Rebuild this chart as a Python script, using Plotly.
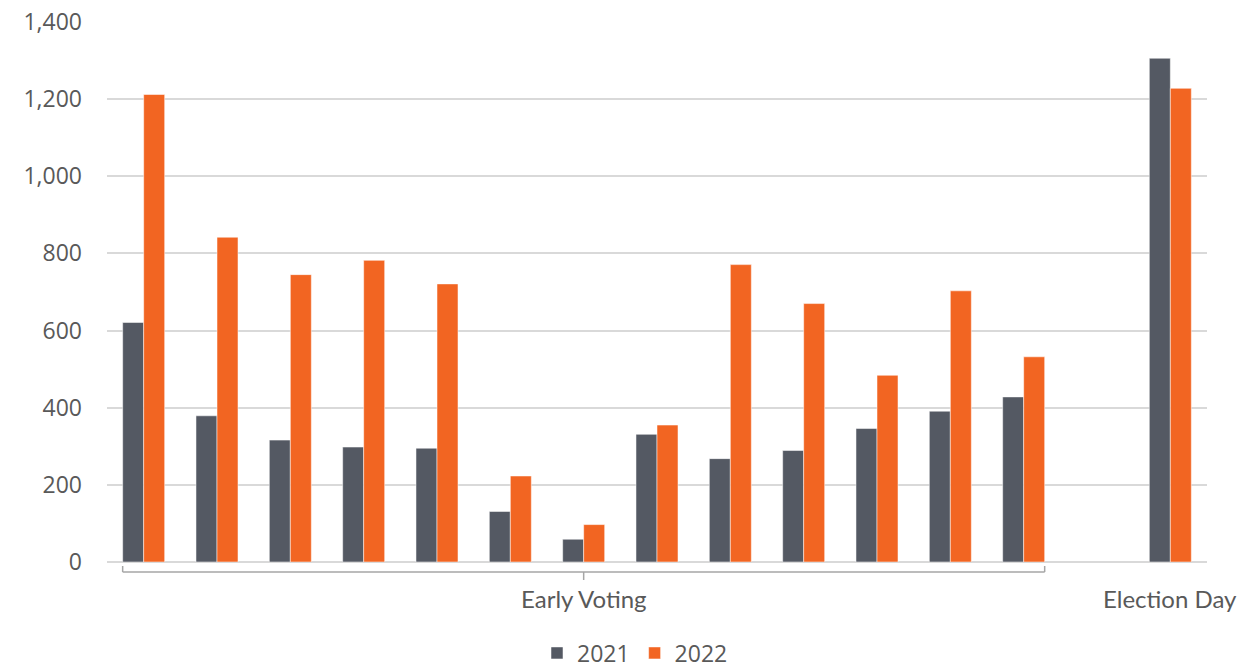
import plotly.graph_objects as go

# ---- data ----
categories = [f"EV{i}" for i in range(1, 14)] + [" ", "Election Day"]
votes_2021 = [621, 379, 316, 298, 295, 131, 59, 331, 268, 289, 346, 391, 428, None, 1306]
votes_2022 = [1212, 842, 745, 782, 721, 223, 97, 355, 771, 670, 484, 703, 532, None, 1228]
series_names = ["2021", "2022"]
group_labels = ["Early Voting", "Election Day"]
y_ticks = [0, 200, 400, 600, 800, 1000, 1200, 1400]

GRAY = "#545963"
ORANGE = "#F26522"
TEXT = "#595959"
GRID = "#D9D9D9"

x_idx = list(range(len(categories)))

fig = go.Figure()
fig.add_trace(go.Bar(x=x_idx, y=votes_2021, name=series_names[0],
                     marker=dict(color=GRAY, line=dict(color="rgba(255,255,255,0.5)", width=1))))
fig.add_trace(go.Bar(x=x_idx, y=votes_2022, name=series_names[1],
                     marker=dict(color=ORANGE, line=dict(color="rgba(255,255,255,0.5)", width=1))))

bargap = 0.427
half = (1 - bargap) / 2
n_early = 13

PH = 540  # plot height in px
y_line = -10 / PH
y_up = -4 / PH
y_down = -18 / PH
line_style = dict(color="#A6A6A6", width=1.5)
shapes = [
    dict(type="line", xref="x", yref="paper", x0=-half, x1=n_early - 1 + half, y0=y_line, y1=y_line, line=line_style),
    dict(type="line", xref="x", yref="paper", x0=-half, x1=-half, y0=y_line, y1=y_up, line=line_style),
    dict(type="line", xref="x", yref="paper", x0=n_early - 1 + half, x1=n_early - 1 + half, y0=y_line, y1=y_up, line=line_style),
    dict(type="line", xref="x", yref="paper", x0=(n_early - 1) / 2, x1=(n_early - 1) / 2, y0=y_line, y1=y_down, line=line_style),
]

annotations = [
    dict(text=group_labels[0], xref="x", yref="paper", x=(n_early - 1) / 2, y=-36 / PH,
         showarrow=False, xanchor="center", yanchor="middle",
         font=dict(family="Lato", size=24, color=TEXT)),
    dict(text=group_labels[1], xref="x", yref="paper", x=len(categories) - 1, y=-36 / PH,
         showarrow=False, xanchor="center", yanchor="middle",
         font=dict(family="Lato", size=24, color=TEXT)),
]

fig.update_layout(
    width=1249, height=669,
    margin=dict(l=107, r=42, t=22, b=107, autoexpand=False),
    paper_bgcolor="white", plot_bgcolor="white",
    barmode="group", bargap=bargap, bargroupgap=0,
    showlegend=True,
    legend=dict(orientation="h", x=0.48, xanchor="center", y=-91 / PH, yanchor="middle",
                font=dict(family="Open Sans", size=23, color=TEXT), traceorder="normal",
                itemwidth=30, tracegroupgap=0),
    shapes=shapes,
    annotations=annotations,
    xaxis=dict(range=[-0.5, len(categories) - 0.5], showticklabels=False, showgrid=False,
               zeroline=False, showline=False, ticks=""),
    yaxis=dict(range=[0, 1400], tickvals=y_ticks, tickformat=",", showgrid=True,
               gridcolor=GRID, gridwidth=2, zeroline=True, zerolinecolor=GRID, zerolinewidth=2,
               showline=False, ticks="", ticklabelstandoff=24,
               tickfont=dict(family="Open Sans", size=23, color=TEXT)),
)

fig.write_html("out.html")
